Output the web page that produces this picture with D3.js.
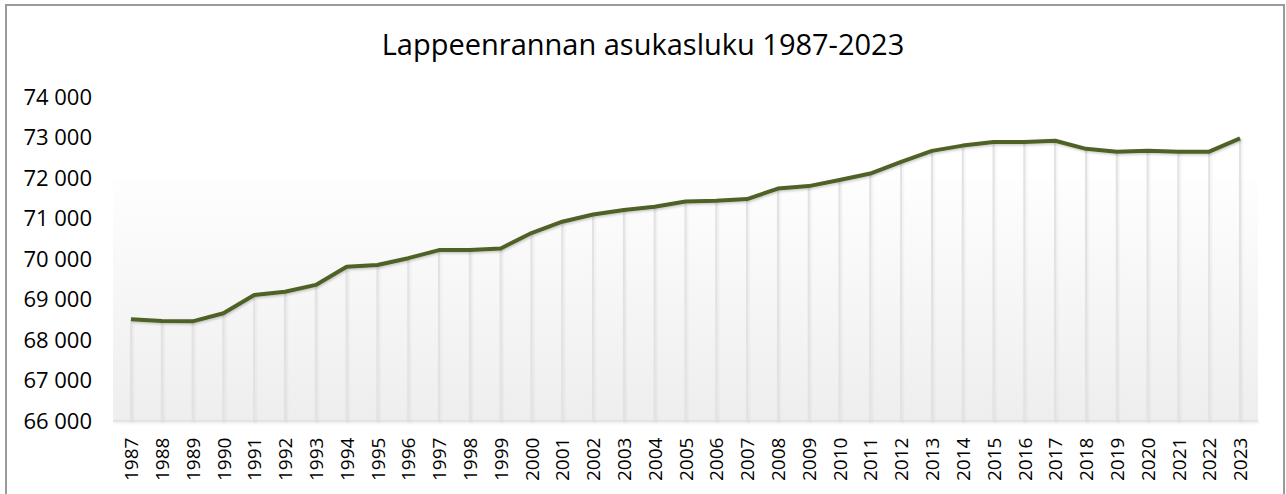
<!DOCTYPE html>
<html>
<head>
<meta charset="utf-8">
<script src="https://d3js.org/d3.v7.min.js"></script>
<style>
  body { margin: 0; background: #fff; }
  text { font-family: "Open Sans", sans-serif; fill: #000; }
</style>
</head>
<body>
<svg id="chart" width="1286" height="494"></svg>
<script>
// Lappeenrannan asukasluku
var years = [1987,1988,1989,1990,1991,1992,1993,1994,1995,1996,1997,1998,1999,2000,
             2001,2002,2003,2004,2005,2006,2007,2008,2009,2010,2011,2012,2013,2014,
             2015,2016,2017,2018,2019,2020,2021,2022,2023];
var population = [68510,68470,68460,68660,69110,69190,69360,69810,69850,70020,70220,70220,
                  70260,70640,70920,71100,71210,71290,71420,71440,71480,71740,71800,71950,
                  72110,72400,72670,72800,72890,72890,72920,72720,72650,72670,72650,72650,72980];
var yTicks = [66000,67000,68000,69000,70000,71000,72000,73000,74000];
var title = "Lappeenrannan asukasluku 1987-2023";

var svg = d3.select("#chart");
var fmt = d => d3.format(",")(d).replace(",", " ");

// frame
svg.append("rect").attr("x", 6).attr("y", 5).attr("width", 1278).attr("height", 495)
  .attr("fill", "none").attr("stroke", "#9a9a9a").attr("stroke-width", 2);

var x = d3.scalePoint().domain(years).range([131, 1240]);
var y = d3.scaleLinear().domain([66000, 74000]).range([421, 97]);

var defs = svg.append("defs");
var grad = defs.append("linearGradient").attr("id", "bg").attr("x1", 0).attr("y1", 0).attr("x2", 0).attr("y2", 1);
grad.append("stop").attr("offset", "0%").attr("stop-color", "#fefefe");
grad.append("stop").attr("offset", "100%").attr("stop-color", "#eeeeee");

function shadow(id, op) {
  var f = defs.append("filter").attr("id", id).attr("filterUnits", "userSpaceOnUse")
    .attr("x", 0).attr("y", 0).attr("width", 1286).attr("height", 494);
  f.append("feDropShadow").attr("dx", 1).attr("dy", 1.5).attr("stdDeviation", 1)
    .attr("flood-color", "#000").attr("flood-opacity", op);
}
shadow("shadow", 0.2);
shadow("shadowLight", 0.08);

// plot background
svg.append("rect").attr("x", 113).attr("y", y(72000)).attr("width", 1258 - 113)
  .attr("height", y(66000) - y(72000)).attr("fill", "url(#bg)");

// axis baseline
svg.append("line").attr("x1", 113).attr("x2", 1258).attr("y1", y(66000)).attr("y2", y(66000))
  .attr("stroke", "#e4e4e4").attr("stroke-width", 2).attr("filter", "url(#shadowLight)");

// drop lines
svg.append("g").attr("filter", "url(#shadowLight)").selectAll("line").data(years).join("line")
  .attr("x1", d => x(d)).attr("x2", d => x(d))
  .attr("y1", (d, i) => y(population[i])).attr("y2", y(66000))
  .attr("stroke", "#e2e2e2").attr("stroke-width", 2);

// y axis labels
var yAxis = svg.append("g").attr("transform", "translate(92,0)")
  .call(d3.axisLeft(y).tickValues(yTicks).tickFormat(fmt).tickSize(0).tickPadding(0));
yAxis.select(".domain").remove();
yAxis.selectAll("text").attr("font-size", 22).attr("font-family", "Open Sans").attr("fill", "#000");

// x axis labels
var xAxis = svg.append("g").attr("transform", "translate(0," + (y(66000) + 14) + ")")
  .call(d3.axisBottom(x).tickSize(0).tickPadding(0));
xAxis.select(".domain").remove();
xAxis.selectAll("text").attr("font-size", 19).attr("font-family", "Open Sans").attr("fill", "#000")
  .attr("x", 0).attr("y", 0).attr("dy", "0.35em")
  .attr("transform", "rotate(-90) translate(-46,0)").attr("text-anchor", "start");

// line
svg.append("path").datum(population)
  .attr("d", d3.line().x((d, i) => x(years[i])).y(d => y(d)))
  .attr("fill", "none").attr("stroke", "#4f6228").attr("stroke-width", 4)
  .attr("stroke-linejoin", "round").attr("filter", "url(#shadow)");

// title
svg.append("text").attr("x", 643).attr("y", 55).attr("text-anchor", "middle")
  .attr("font-size", 29).text(title);
</script>
</body>
</html>
